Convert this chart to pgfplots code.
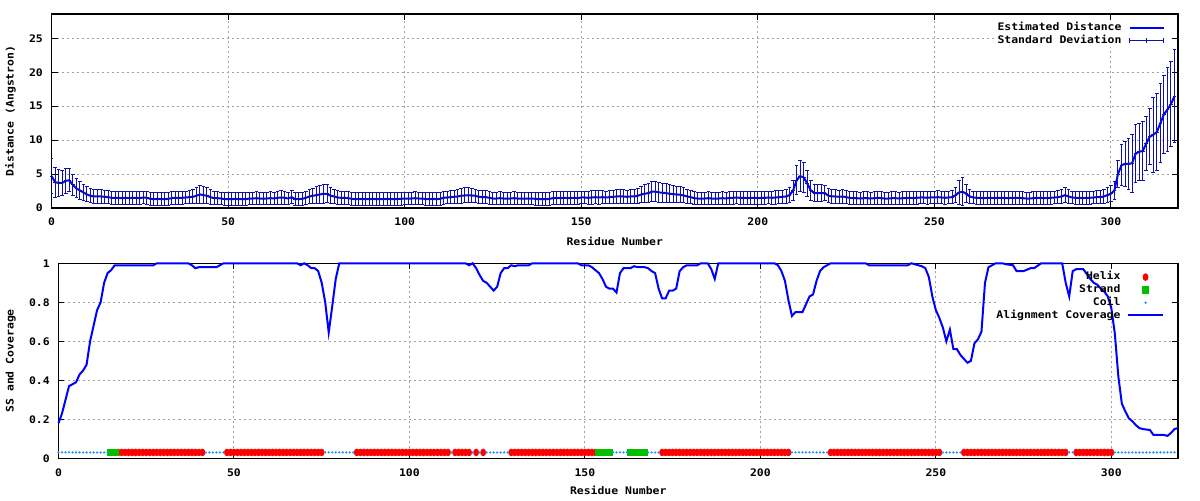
\documentclass[border=0pt]{standalone}
\usepackage{pgfplots}
\usepackage{pgfplotstable}
\pgfplotsset{compat=1.18}
\usepackage{fontspec}
\newfontfamily\gpfam[FakeStretch=1.1]{DejaVu Sans Mono}
\newcommand\gpf{\gpfam\bfseries\fontsize{5.2pt}{6pt}\selectfont}
\definecolor{gpblue}{RGB}{0,0,255}
\definecolor{gpnavy}{RGB}{16,16,170}
\definecolor{gpred}{RGB}{255,0,0}
\definecolor{gpgreen}{RGB}{0,192,0}
\definecolor{gpcoil}{RGB}{30,144,255}
\definecolor{gpgrid}{RGB}{160,160,160}

\pgfplotstableread{
r d s
0 4.7 2.6
1 3.8 2.2
2 3.7 2.0
3 3.7 1.8
4 4.0 1.8
5 4.1 1.7
6 3.4 1.5
7 2.9 1.4
8 2.6 1.3
9 2.3 1.2
10 2.0 1.1
11 1.8 1.05
12 1.7 1.0
13 1.7 1.0
14 1.7 1.0
15 1.65 1.0
16 1.6 1.0
17 1.5 0.95
18 1.5 0.95
19 1.5 0.95
20 1.45 0.95
21 1.5 0.95
22 1.45 0.95
23 1.5 0.95
24 1.5 0.95
25 1.45 0.95
26 1.55 0.95
27 1.5 0.95
28 1.35 0.95
29 1.3 0.95
30 1.35 0.95
31 1.3 0.95
32 1.3 0.95
33 1.35 0.95
34 1.45 0.95
35 1.5 0.95
36 1.5 0.95
37 1.5 0.95
38 1.55 0.95
39 1.6 1.0
40 1.65 1.05
41 1.8 1.2
42 2.0 1.3
43 1.9 1.3
44 1.8 1.2
45 1.6 1.1
46 1.45 1.0
47 1.45 0.95
48 1.4 0.95
49 1.3 0.95
50 1.3 0.95
51 1.3 0.95
52 1.35 0.95
53 1.3 0.95
54 1.3 0.95
55 1.3 0.95
56 1.4 0.95
57 1.4 0.95
58 1.45 0.95
59 1.4 0.95
60 1.4 0.95
61 1.4 0.95
62 1.45 0.95
63 1.4 0.95
64 1.5 1.0
65 1.55 1.05
66 1.5 1.0
67 1.4 0.95
68 1.6 1.0
69 1.3 0.95
70 1.3 0.95
71 1.35 0.95
72 1.5 1.0
73 1.7 1.05
74 1.8 1.1
75 1.9 1.2
76 2.0 1.3
77 2.1 1.4
78 2.1 1.3
79 1.8 1.2
80 1.7 1.1
81 1.55 1.0
82 1.5 1.0
83 1.5 0.95
84 1.45 0.95
85 1.35 0.95
86 1.3 0.95
87 1.3 0.95
88 1.35 0.95
89 1.3 0.95
90 1.3 0.95
91 1.35 0.95
92 1.3 0.95
93 1.3 0.95
94 1.3 0.95
95 1.35 0.95
96 1.3 0.95
97 1.3 0.95
98 1.35 0.95
99 1.35 0.95
100 1.4 0.95
101 1.4 0.95
102 1.4 0.95
103 1.45 0.95
104 1.4 0.95
105 1.4 0.95
106 1.3 0.95
107 1.3 0.95
108 1.35 0.95
109 1.3 0.95
110 1.35 0.95
111 1.5 0.95
112 1.55 0.95
113 1.6 1.0
114 1.65 1.0
115 1.7 1.05
116 1.8 1.1
117 1.85 1.1
118 1.85 1.1
119 1.85 1.05
120 1.8 1.0
121 1.65 1.0
122 1.6 0.95
123 1.6 0.95
124 1.5 0.95
125 1.4 0.95
126 1.4 0.95
127 1.45 0.95
128 1.4 0.95
129 1.4 0.95
130 1.4 0.95
131 1.45 0.95
132 1.4 0.95
133 1.4 0.95
134 1.4 0.95
135 1.4 0.95
136 1.4 0.95
137 1.35 0.95
138 1.3 0.95
139 1.3 0.95
140 1.3 0.95
141 1.35 0.95
142 1.45 0.95
143 1.45 0.95
144 1.45 0.95
145 1.5 0.95
146 1.45 0.95
147 1.45 0.95
148 1.5 0.95
149 1.45 0.95
150 1.55 0.95
151 1.55 0.95
152 1.5 0.95
153 1.55 1.0
154 1.6 1.0
155 1.55 1.0
156 1.6 1.0
157 1.55 0.95
158 1.6 1.0
159 1.65 1.0
160 1.7 1.05
161 1.7 1.05
162 1.7 1.0
163 1.65 1.0
164 1.7 1.05
165 1.7 1.05
166 1.8 1.1
167 2.0 1.2
168 2.1 1.3
169 2.2 1.4
170 2.4 1.5
171 2.4 1.5
172 2.3 1.5
173 2.25 1.4
174 2.2 1.4
175 2.1 1.3
176 2.05 1.3
177 2.0 1.2
178 1.95 1.15
179 1.85 1.1
180 1.7 1.0
181 1.6 1.0
182 1.45 0.95
183 1.4 0.95
184 1.4 0.95
185 1.4 0.95
186 1.45 0.95
187 1.4 0.95
188 1.4 0.95
189 1.4 0.95
190 1.45 0.95
191 1.4 0.95
192 1.5 0.95
193 1.5 0.95
194 1.55 0.95
195 1.5 0.95
196 1.5 0.95
197 1.45 0.95
198 1.5 0.95
199 1.5 0.95
200 1.45 0.95
201 1.5 0.95
202 1.5 0.95
203 1.55 0.95
204 1.5 0.95
205 1.55 1.0
206 1.6 1.0
207 1.65 1.0
208 1.7 1.0
209 1.9 1.1
210 2.6 1.5
211 4.1 2.1
212 4.7 2.3
213 4.5 2.2
214 3.6 1.9
215 2.6 1.5
216 2.2 1.3
217 2.2 1.2
218 2.2 1.2
219 2.2 1.15
220 1.8 1.05
221 1.7 1.0
222 1.7 1.0
223 1.65 1.0
224 1.7 1.0
225 1.6 1.0
226 1.5 0.95
227 1.45 0.95
228 1.45 0.95
229 1.4 0.95
230 1.45 0.95
231 1.45 0.95
232 1.4 0.95
233 1.45 0.95
234 1.5 0.95
235 1.45 0.95
236 1.4 0.95
237 1.4 0.95
238 1.45 0.95
239 1.45 0.95
240 1.4 0.95
241 1.45 0.95
242 1.45 0.95
243 1.5 0.95
244 1.45 0.95
245 1.5 0.95
246 1.55 0.95
247 1.55 0.95
248 1.5 0.95
249 1.55 0.95
250 1.55 0.95
251 1.6 1.0
252 1.55 0.95
253 1.5 0.95
254 1.55 0.95
255 1.6 1.0
256 1.9 1.1
257 2.3 1.8
258 2.4 2.1
259 2.1 1.3
260 1.7 1.0
261 1.55 0.95
262 1.5 0.95
263 1.5 0.95
264 1.45 0.95
265 1.5 0.95
266 1.5 0.95
267 1.45 0.95
268 1.5 0.95
269 1.5 0.95
270 1.45 0.95
271 1.45 0.95
272 1.5 0.95
273 1.5 0.95
274 1.5 0.95
275 1.45 0.95
276 1.4 0.95
277 1.4 0.95
278 1.45 0.95
279 1.5 0.95
280 1.5 0.95
281 1.45 0.95
282 1.45 0.95
283 1.5 0.95
284 1.55 0.95
285 1.6 1.0
286 1.7 1.0
287 1.9 1.1
288 1.7 1.0
289 1.55 0.95
290 1.5 0.95
291 1.5 0.95
292 1.45 0.95
293 1.5 0.95
294 1.5 0.95
295 1.55 0.95
296 1.6 1.0
297 1.6 1.0
298 1.7 1.0
299 1.9 1.1
300 2.1 1.2
301 2.6 1.3
302 5.0 2.0
303 6.3 3.0
304 6.5 3.3
305 6.5 3.8
306 6.6 4.3
307 8.0 4.3
308 8.3 4.2
309 8.4 4.3
310 9.5 4.0
311 10.5 4.1
312 10.8 5.5
313 11.2 5.7
314 12.5 5.8
315 13.8 5.7
316 14.5 6.2
317 15.3 6.3
318 16.5 6.8
}\dist

\pgfplotstableread{
r c
0 0.18
1 0.23
2 0.30
3 0.37
4 0.38
5 0.39
6 0.43
7 0.45
8 0.48
9 0.60
10 0.68
11 0.76
12 0.80
13 0.90
14 0.95
15 0.965
16 0.99
27 0.99
28 1
37 1
38 0.99
39 0.975
40 0.98
45 0.98
46 0.99
47 1
68 1
69 0.99
70 1
71 0.99
72 0.975
73 0.975
74 0.96
75 0.90
76 0.80
77 0.645
78 0.78
79 0.92
80 1
116 1
117 0.99
118 1
119 0.975
120 0.94
121 0.91
122 0.90
123 0.88
124 0.86
125 0.88
126 0.95
127 0.975
128 0.975
129 0.99
130 0.985
131 0.99
134 0.99
135 1
148 1
149 0.99
151 0.99
152 0.98
153 0.965
154 0.95
155 0.92
156 0.88
157 0.87
158 0.87
159 0.85
160 0.95
161 0.975
163 0.975
164 0.985
165 0.98
167 0.98
168 0.975
169 0.96
170 0.95
171 0.87
172 0.82
173 0.82
174 0.86
175 0.86
176 0.87
177 0.96
178 0.98
179 0.99
182 0.99
183 1
185 1
186 0.97
187 0.92
188 1
204 1
205 0.99
206 0.96
207 0.91
208 0.81
209 0.73
210 0.75
212 0.75
213 0.79
214 0.83
215 0.84
216 0.91
217 0.96
218 0.98
219 0.99
220 1
230 1
231 0.99
242 0.99
243 1
244 0.995
245 0.99
246 0.985
247 0.975
248 0.93
249 0.83
250 0.76
251 0.72
252 0.67
253 0.60
254 0.66
255 0.56
256 0.56
257 0.53
258 0.51
259 0.49
260 0.50
261 0.59
262 0.61
263 0.65
264 0.90
265 0.98
266 0.99
267 1
269 1
270 0.995
272 0.99
273 0.96
275 0.96
277 0.975
278 0.975
280 1
286 1
287 0.90
288 0.83
289 0.96
290 0.97
292 0.97
293 0.945
294 0.92
295 0.90
296 0.89
297 0.87
298 0.855
299 0.83
300 0.77
301 0.64
302 0.42
303 0.28
304 0.24
305 0.205
306 0.19
307 0.17
308 0.155
309 0.15
311 0.145
312 0.12
315 0.12
316 0.115
317 0.13
318 0.15
319 0.155
}\cover

\pgfplotsset{
  gpaxis/.style={
    scale only axis,
    xmin=0, xmax=319,
    xtick={0,50,100,150,200,250,300},
    grid=major,
    major grid style={gpgrid, dash pattern=on 1pt off 1.5pt, line width=0.5pt},
    tick align=inside,
    major tick length=3pt,
    tick style={black, line width=0.5pt},
    axis line style={black, line width=0.6pt},
    /pgf/number format/assume math mode=true,
    tick label style={font=\gpf},
    xticklabel style={anchor=center, inner sep=0pt, yshift=-7pt},
    yticklabel style={anchor=east, inner sep=0pt, xshift=-4.2pt},
    every axis x label/.style={at={(axis description cs:0.5,-0.17)}, anchor=center, font=\gpf},
    legend cell align=right,
    legend plot pos=right,
  }
}

\begin{document}
\begin{tikzpicture}
\path[use as bounding box] (0,0) rectangle (600pt,250pt);

% ---------------- top panel ----------------
\begin{axis}[gpaxis,
  at={(25.8pt,146pt)}, anchor=south west,
  width=563.2pt, height=97pt,
  ymin=0, ymax=28.6,
  ytick={0,5,10,15,20,25},
  xlabel={Residue Number},
  ylabel={Distance (Angstron)},
  every axis y label/.style={at={(axis description cs:-0.0365,0.5)}, anchor=center, rotate=90, font=\gpf},
  legend style={at={(rel axis cs:0.9885,0.9567)}, anchor=north east, draw=none, fill=none,
    inner sep=0pt, font=\gpf, row sep=1.5pt, column sep=3.5pt,
    nodes={inner sep=0pt, text height=3.8pt, text depth=1.2pt}},
]
\fill[white] (rel axis cs:0.839,0.8314) rectangle (rel axis cs:0.9937,0.964);
\addplot[gpblue, line width=1pt] table[x=r, y=d] {\dist};
\addlegendentry{Estimated Distance}
\addplot[gpnavy, line width=0.5pt, only marks, mark=-, mark size=0.9pt,
  legend image code/.code={\draw[gpnavy,line width=0.5pt] (0cm,0pt)--(0.6cm,0pt) (0cm,-1.2pt)--(0cm,1.2pt) (0.3cm,-1.2pt)--(0.3cm,1.2pt) (0.6cm,-1.2pt)--(0.6cm,1.2pt);},
  error bars/.cd, y dir=both, y explicit,
  error mark=|,
  error bar style={gpnavy, line width=0.5pt},
  error mark options={gpnavy, mark size=0.9pt, line width=0.5pt}]
  table[x=r, y=d, y error=s] {\dist};
\addlegendentry{Standard Deviation}
\end{axis}

% ---------------- bottom panel ----------------
\begin{axis}[gpaxis,
  at={(29.25pt,20.85pt)}, anchor=south west,
  width=559.75pt, height=97.5pt,
  ymin=0, ymax=1,
  ytick={0,0.2,0.4,0.6,0.8,1},
  clip=false,
  xlabel={Residue Number},
  every axis x label/.style={at={(axis description cs:0.5,-0.1626)}, anchor=center, font=\gpf},
  ylabel={SS and Coverage},
  every axis y label/.style={at={(axis description cs:-0.0426,0.5)}, anchor=center, rotate=90, font=\gpf},
  legend style={at={(rel axis cs:0.9875,0.957)}, anchor=north east, draw=none, fill=none,
    inner sep=0pt, font=\gpf, row sep=1.4pt, column sep=3.5pt,
    nodes={inner sep=0pt, text height=3.8pt, text depth=1.2pt}},
]
\fill[white] (rel axis cs:0.838,0.70) rectangle (rel axis cs:0.9937,0.964);
\addplot[only marks, mark=*, color=gpred, mark size=1.25pt, mark options={yscale=1.35}] coordinates {
(17,0.03)(18,0.03)(19,0.03)(20,0.03)(21,0.03)(22,0.03)(23,0.03)(24,0.03)(25,0.03)(26,0.03)
(27,0.03)(28,0.03)(29,0.03)(30,0.03)(31,0.03)(32,0.03)(33,0.03)(34,0.03)(35,0.03)(36,0.03)
(37,0.03)(38,0.03)(39,0.03)(40,0.03)(41,0.03)
(48,0.03)(49,0.03)(50,0.03)(51,0.03)(52,0.03)(53,0.03)(54,0.03)(55,0.03)(56,0.03)(57,0.03)
(58,0.03)(59,0.03)(60,0.03)(61,0.03)(62,0.03)(63,0.03)(64,0.03)(65,0.03)(66,0.03)(67,0.03)
(68,0.03)(69,0.03)(70,0.03)(71,0.03)(72,0.03)(73,0.03)(74,0.03)(75,0.03)
(85,0.03)(86,0.03)(87,0.03)(88,0.03)(89,0.03)(90,0.03)(91,0.03)(92,0.03)(93,0.03)(94,0.03)
(95,0.03)(96,0.03)(97,0.03)(98,0.03)(99,0.03)(100,0.03)(101,0.03)(102,0.03)(103,0.03)(104,0.03)
(105,0.03)(106,0.03)(107,0.03)(108,0.03)(109,0.03)(110,0.03)(111,0.03)
(113,0.03)(114,0.03)(115,0.03)(116,0.03)(117,0.03)(119,0.03)(121,0.03)
(129,0.03)(130,0.03)(131,0.03)(132,0.03)(133,0.03)(134,0.03)(135,0.03)(136,0.03)(137,0.03)(138,0.03)
(139,0.03)(140,0.03)(141,0.03)(142,0.03)(143,0.03)(144,0.03)(145,0.03)(146,0.03)(147,0.03)(148,0.03)
(149,0.03)(150,0.03)(151,0.03)(152,0.03)(153,0.03)
(172,0.03)(173,0.03)(174,0.03)(175,0.03)(176,0.03)(177,0.03)(178,0.03)(179,0.03)(180,0.03)(181,0.03)
(182,0.03)(183,0.03)(184,0.03)(185,0.03)(186,0.03)(187,0.03)(188,0.03)(189,0.03)(190,0.03)(191,0.03)
(192,0.03)(193,0.03)(194,0.03)(195,0.03)(196,0.03)(197,0.03)(198,0.03)(199,0.03)(200,0.03)(201,0.03)
(202,0.03)(203,0.03)(204,0.03)(205,0.03)(206,0.03)(207,0.03)(208,0.03)
(220,0.03)(221,0.03)(222,0.03)(223,0.03)(224,0.03)(225,0.03)(226,0.03)(227,0.03)(228,0.03)(229,0.03)
(230,0.03)(231,0.03)(232,0.03)(233,0.03)(234,0.03)(235,0.03)(236,0.03)(237,0.03)(238,0.03)(239,0.03)
(240,0.03)(241,0.03)(242,0.03)(243,0.03)(244,0.03)(245,0.03)(246,0.03)(247,0.03)(248,0.03)(249,0.03)
(250,0.03)(251,0.03)
(258,0.03)(259,0.03)(260,0.03)(261,0.03)(262,0.03)(263,0.03)(264,0.03)(265,0.03)(266,0.03)(267,0.03)
(268,0.03)(269,0.03)(270,0.03)(271,0.03)(272,0.03)(273,0.03)(274,0.03)(275,0.03)(276,0.03)(277,0.03)
(278,0.03)(279,0.03)(280,0.03)(281,0.03)(282,0.03)(283,0.03)(284,0.03)(285,0.03)(286,0.03)(287,0.03)
(290,0.03)(291,0.03)(292,0.03)(293,0.03)(294,0.03)(295,0.03)(296,0.03)(297,0.03)(298,0.03)(299,0.03)
(300,0.03)
};
\addlegendentry{Helix}
\addplot[only marks, mark=square*, color=gpgreen, mark size=1.65pt] coordinates {
(15,0.03)(16,0.03)
(154,0.03)(155,0.03)(156,0.03)(157,0.03)
(163,0.03)(164,0.03)(165,0.03)(166,0.03)(167,0.03)
};
\addlegendentry{Strand}
\addplot[only marks, mark=*, color=gpcoil, mark size=0.35pt] coordinates {
(0,0.03)(1,0.03)(2,0.03)(3,0.03)(4,0.03)(5,0.03)(6,0.03)(7,0.03)(8,0.03)(9,0.03)
(10,0.03)(11,0.03)(12,0.03)(13,0.03)(14,0.03)
(42,0.03)(43,0.03)(44,0.03)(45,0.03)(46,0.03)(47,0.03)
(76,0.03)(77,0.03)(78,0.03)(79,0.03)(80,0.03)(81,0.03)(82,0.03)(83,0.03)(84,0.03)
(112,0.03)(118,0.03)(120,0.03)
(122,0.03)(123,0.03)(124,0.03)(125,0.03)(126,0.03)(127,0.03)(128,0.03)
(158,0.03)(159,0.03)(160,0.03)(161,0.03)(162,0.03)
(168,0.03)(169,0.03)(170,0.03)(171,0.03)
(209,0.03)(210,0.03)(211,0.03)(212,0.03)(213,0.03)(214,0.03)(215,0.03)(216,0.03)(217,0.03)(218,0.03)(219,0.03)
(252,0.03)(253,0.03)(254,0.03)(255,0.03)(256,0.03)(257,0.03)
(288,0.03)(289,0.03)
(301,0.03)(302,0.03)(303,0.03)(304,0.03)(305,0.03)(306,0.03)(307,0.03)(308,0.03)(309,0.03)(310,0.03)
(311,0.03)(312,0.03)(313,0.03)(314,0.03)(315,0.03)(316,0.03)(317,0.03)(318,0.03)
};
\addlegendentry{Coil}
\addplot[gpblue, line width=1pt] table[x=r, y=c] {\cover};
\addlegendentry{Alignment Coverage}
\end{axis}
\end{tikzpicture}
\end{document}
